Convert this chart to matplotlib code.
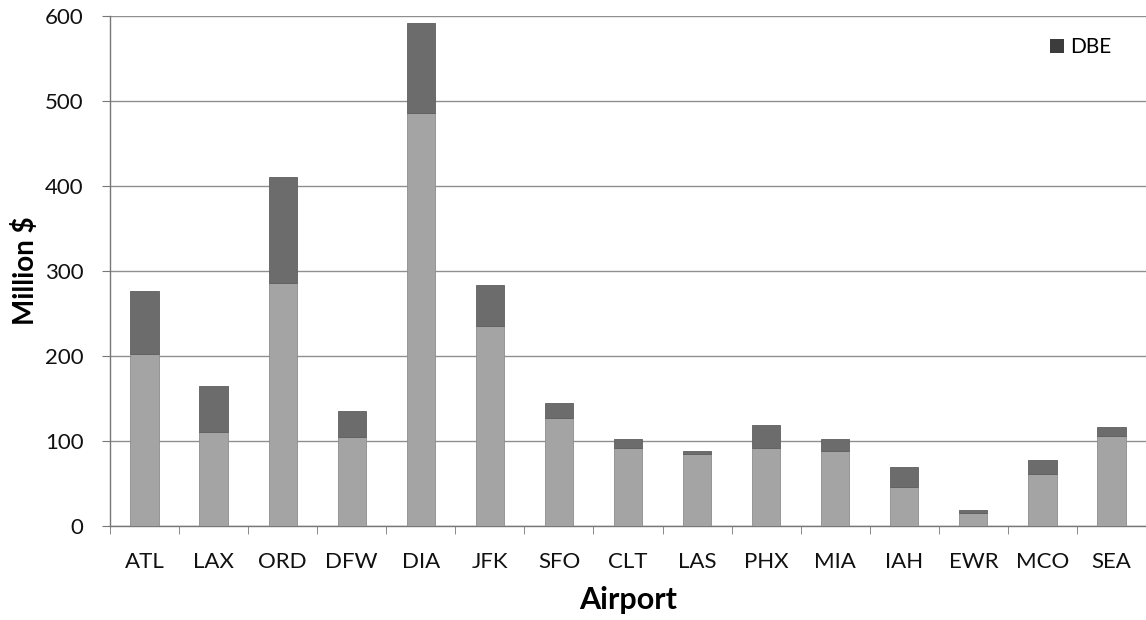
import matplotlib
matplotlib.use("Agg")
import matplotlib.pyplot as plt
from matplotlib.patches import Patch
import numpy as np

airports = ["ATL", "LAX", "ORD", "DFW", "DIA", "JFK", "SFO", "CLT",
            "LAS", "PHX", "MIA", "IAH", "EWR", "MCO", "SEA"]
# total contract value and the non-DBE portion (million $)
totals = [276, 165, 411, 135, 592, 284, 145, 102, 88, 119, 102, 69, 18, 77, 116]
non_dbe = [202, 110, 286, 105, 486, 235, 127, 91, 84, 91, 88, 46, 15, 61, 106]
dbe = [t - n for t, n in zip(totals, non_dbe)]

y_ticks = [0, 100, 200, 300, 400, 500, 600]

plt.rcParams["font.family"] = ["Lato", "DejaVu Sans"]

fig = plt.figure(figsize=(11.46, 6.20), dpi=100)
ax = fig.add_axes([0.096, 0.152, 0.904, 0.822])

x = np.arange(len(airports))
light = "#a4a4a4"
dark = "#6c6c6c"
w = 0.41
ax.bar(x, non_dbe, width=w, color=light, edgecolor="#8c8c8c", linewidth=0.6, zorder=3)
ax.bar(x, dbe, width=w, bottom=non_dbe, color=dark, edgecolor="#5e5e5e",
       linewidth=0.6, zorder=3)

ax.set_xlim(-0.5, len(airports) - 0.5)
ax.set_ylim(0, 600)
ax.set_yticks(y_ticks)
ax.set_yticklabels([str(v) for v in y_ticks], fontsize=16, color="#111111")
ax.set_xticks(x)
ax.set_xticklabels(airports, fontsize=16, color="#111111")
ax.tick_params(axis="x", which="major", length=0, pad=19)
ax.set_xticks(np.arange(-0.5, len(airports)), minor=True)
ax.tick_params(axis="x", which="minor", length=6, direction="out", color="#777777")
ax.tick_params(axis="y", length=6, direction="out", color="#777777", pad=13)

ax.grid(axis="y", color="#8f8f8f", linewidth=1.0, zorder=0)
for side in ("top", "right"):
    ax.spines[side].set_visible(False)
for side in ("left", "bottom"):
    ax.spines[side].set_color("#777777")
    ax.spines[side].set_linewidth(1.0)

ax.set_ylabel("Million $", fontsize=20, fontweight="bold", labelpad=4)
ax.set_xlabel("Airport", fontsize=22, fontweight="bold", labelpad=10)

ax.legend(handles=[Patch(facecolor="#3c3c3c", label="DBE")], loc="upper right",
          frameon=False, fontsize=15, handlelength=0.7, handleheight=0.7,
          handletextpad=0.3, bbox_to_anchor=(0.985, 0.995))

fig.savefig("out.png", dpi=100)
